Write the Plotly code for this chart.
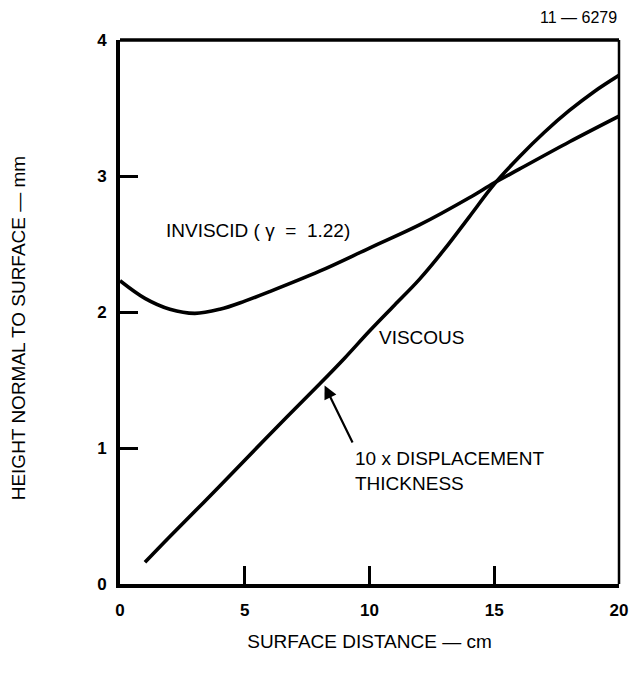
import plotly.graph_objects as go

# Inviscid shock-layer height (gamma = 1.22)
inviscid_x = [0, 1, 2, 3, 4, 5, 6, 8, 10, 12, 14, 15, 16, 18, 20]
inviscid_y = [2.23, 2.10, 2.02, 1.99, 2.02, 2.08, 2.15, 2.30, 2.47, 2.64, 2.84, 2.95, 3.05, 3.25, 3.44]

# Viscous: 10 x displacement thickness
viscous_x = [1, 2, 4, 6, 8, 9, 10, 11, 12, 13, 14, 15, 16, 17, 18, 19, 20]
viscous_y = [0.16, 0.35, 0.72, 1.10, 1.47, 1.66, 1.86, 2.05, 2.24, 2.46, 2.70, 2.94, 3.14, 3.32, 3.48, 3.62, 3.74]

x_ticks = [0, 5, 10, 15, 20]
y_ticks = [0, 1, 2, 3, 4]

FONT = "Liberation Sans"
INK = "black"
LABEL_SIZE = 19

fig = go.Figure()
for xs, ys in [(inviscid_x, inviscid_y), (viscous_x, viscous_y)]:
    fig.add_trace(go.Scatter(
        x=xs, y=ys, mode="lines",
        line=dict(color=INK, width=3.6, shape="spline", smoothing=1.0),
        showlegend=False, hoverinfo="skip",
    ))

fig.update_layout(
    width=640, height=682,
    margin=dict(l=120, r=16, t=40, b=98),
    paper_bgcolor="white", plot_bgcolor="white",
    font=dict(family=FONT, color=INK, size=LABEL_SIZE),
    xaxis=dict(
        range=[0, 20], tickvals=x_ticks, ticktext=[str(v) for v in x_ticks],
        showgrid=False, zeroline=False,
        showline=True, linecolor=INK, linewidth=4,
        ticks="inside", ticklen=18, tickwidth=2.5, tickcolor=INK,
        ticklabelstandoff=8,
        tickfont=dict(family=FONT, size=17, color=INK, weight="bold"),
        title=dict(text="SURFACE DISTANCE — cm", standoff=16,
                   font=dict(family=FONT, size=LABEL_SIZE, color=INK)),
    ),
    yaxis=dict(
        range=[0, 4], tickvals=y_ticks, ticktext=[str(v) for v in y_ticks],
        showgrid=False, zeroline=False,
        showline=True, linecolor=INK, linewidth=4,
        ticks="inside", ticklen=18, tickwidth=2.5, tickcolor=INK,
        ticklabelstandoff=6,
        tickfont=dict(family=FONT, size=17, color=INK, weight="bold"),
    ),
    shapes=[
        dict(type="line", xref="paper", yref="paper", x0=0, x1=1, y0=1, y1=1,
             line=dict(color=INK, width=3.5)),
        dict(type="line", xref="paper", yref="paper", x0=1, x1=1, y0=0, y1=1,
             line=dict(color=INK, width=2.5)),
    ],
    annotations=[
        # vertical axis title, set slightly below the plot's mid-height
        dict(text="HEIGHT NORMAL TO SURFACE — mm", xref="paper", yref="paper",
             x=0, y=0.47, xanchor="center", yanchor="middle", xshift=-102,
             textangle=-90, showarrow=False,
             font=dict(family=FONT, size=LABEL_SIZE, color=INK)),
        dict(text="11 — 6279", xref="paper", yref="paper", x=1.0, y=1.0,
             xanchor="right", yanchor="bottom", yshift=12, showarrow=False,
             font=dict(family=FONT, size=16, color=INK)),
        dict(text="INVISCID ( γ  =  1.22)", x=1.75, y=2.60, xanchor="left",
             yanchor="middle", showarrow=False,
             font=dict(family=FONT, size=LABEL_SIZE, color=INK)),
        dict(text="VISCOUS", x=10.3, y=1.81, xanchor="left", yanchor="middle",
             showarrow=False, font=dict(family=FONT, size=LABEL_SIZE, color=INK)),
        dict(text="10 x DISPLACEMENT<br>THICKNESS", x=9.35, y=0.83,
             xanchor="left", yanchor="middle", align="left", showarrow=False,
             font=dict(family=FONT, size=LABEL_SIZE, color=INK)),
        dict(text="", x=8.2, y=1.46, ax=9.35, ay=1.03, axref="x", ayref="y",
             showarrow=True, arrowhead=2, arrowsize=1.2, arrowwidth=2.2,
             arrowcolor=INK),
    ],
)

fig.write_html("out.html")
